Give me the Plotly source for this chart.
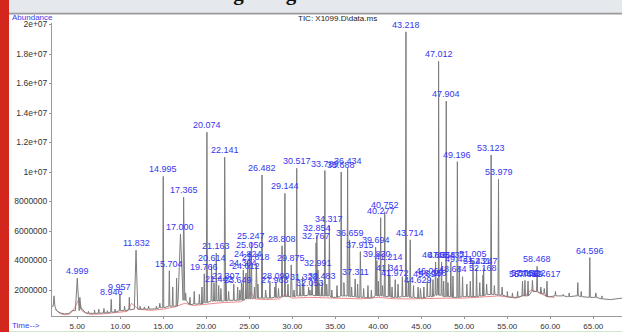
import plotly.graph_objects as go
import numpy as np

# ---------------- data ----------------
# labelled peaks: retention time (min) and apex abundance (millions)
peak_times = [4.999, 8.946, 9.957, 11.832, 14.995, 15.704, 17.000, 17.365,
              19.766, 20.074, 20.614, 21.163, 21.442, 22.141, 22.307, 23.649,
              24.304, 24.612, 24.824, 25.050, 25.247, 25.818, 26.482, 27.963,
              28.099, 28.808, 29.144, 29.875, 30.517, 31.328, 32.053, 32.767,
              32.854, 32.991, 33.483, 33.789, 34.317, 35.688, 36.434, 36.659,
              37.311, 37.915, 39.694, 39.830, 40.277, 40.752, 41.214, 41.341,
              41.972, 43.218, 43.714, 44.629, 45.694, 46.064, 46.358, 46.663,
              47.012, 47.358, 47.904, 48.437, 48.684, 49.196, 49.431, 51.005,
              51.431, 52.168, 52.247, 53.123, 53.979, 56.769, 57.052, 57.412,
              57.922, 58.468, 59.617, 64.596]
peak_heights_m = [2.80, 1.37, 1.70, 4.70, 9.70, 3.30, 5.80, 8.30,
                  3.10, 12.70, 3.70, 4.50, 2.30, 11.00, 2.50, 2.20,
                  3.35, 3.15, 4.00, 4.60, 5.20, 3.75, 9.80, 2.20,
                  2.50, 5.00, 8.55, 3.70, 10.25, 2.40, 2.00, 5.20,
                  5.70, 3.35, 2.50, 10.10, 6.34, 10.00, 10.25, 5.40,
                  2.75, 4.60, 4.90, 4.00, 6.90, 7.30, 3.75, 3.00,
                  2.70, 19.50, 5.40, 2.20, 2.60, 2.80, 2.70, 3.90,
                  17.50, 3.90, 14.80, 3.90, 2.95, 10.70, 3.60, 4.00,
                  3.50, 3.00, 3.50, 11.15, 9.50, 2.60, 2.65, 2.60,
                  2.65, 3.60, 2.60, 4.20]

# unlabelled smaller peaks
minor_times = [2.3, 5.3, 6.3, 7.0, 7.5, 8.1, 8.5, 9.4, 10.5, 11.05, 12.3, 12.8,
               13.3, 14.2, 14.6, 16.1, 16.55, 17.6, 18.1, 18.6, 19.2, 19.5,
               20.9, 21.7, 22.6, 23.2, 23.9, 24.1, 25.6, 26.0, 26.9, 27.4,
               28.4, 29.5, 30.2, 30.9, 31.2, 31.9, 32.3, 33.1, 33.4, 34.0,
               34.6, 35.2, 36.0, 36.9, 37.6, 38.3, 38.8, 39.2, 40.0, 40.5,
               41.6, 42.3, 42.8, 43.5, 44.1, 44.9, 45.3, 46.9, 47.6, 48.1,
               49.8, 50.3, 50.7, 51.8, 52.6, 53.5, 54.4, 55.0, 55.6, 56.2,
               58.9, 59.3, 60.6, 61.5, 62.2, 63.2, 63.6, 65.3, 66.0]
minor_heights_m = [1.6, 1.5, 0.55, 0.65, 0.7, 0.75, 0.6, 0.7, 0.9, 1.5, 0.9, 0.85,
                   0.9, 0.9, 1.1, 2.2, 2.8, 1.8, 1.5, 1.9, 1.7, 2.2,
                   2.5, 2.1, 1.9, 2.4, 2.0, 2.5, 2.2, 2.4, 2.0, 2.6,
                   2.1, 2.4, 2.0, 2.3, 2.9, 2.2, 2.6, 2.5, 2.2, 2.4,
                   2.0, 2.3, 2.5, 2.2, 2.4, 2.1, 2.3, 2.0, 2.6, 2.3,
                   2.2, 2.4, 2.9, 2.6, 2.3, 2.1, 2.2, 2.8, 2.6, 2.5,
                   2.9, 2.4, 2.6, 2.5, 2.4, 2.3, 2.2, 1.9, 1.8, 1.9,
                   2.2, 2.1, 1.9, 1.7, 1.8, 2.5, 1.9, 1.8, 1.6]

# TIC baseline between peaks (min, millions)
base_times = [2.06, 2.6, 3.0, 3.5, 4.0, 4.4, 5.6, 6.0, 7.0, 8.0, 9.0, 10.0,
              11.0, 12.3, 13.0, 14.0, 15.0, 16.0, 17.5, 18.0, 19.0, 20.0,
              21.0, 22.0, 23.0, 24.0, 25.0, 26.0, 27.0, 28.0, 29.0, 30.0,
              31.0, 32.0, 33.0, 34.0, 35.0, 36.0, 37.0, 38.0, 39.0, 40.0,
              41.0, 42.0, 43.0, 44.0, 45.0, 46.0, 47.0, 48.0, 49.0, 50.0,
              51.0, 52.0, 53.0, 54.0, 55.0, 56.0, 57.0, 58.0, 59.0, 60.0,
              61.0, 62.0, 63.0, 64.0, 65.0, 66.0, 67.0, 68.34]
base_values_m = [0.90, 0.60, 0.45, 0.38, 0.40, 0.60, 0.70, 0.42, 0.42, 0.45, 0.50, 0.60,
                 0.65, 0.70, 0.70, 0.72, 0.80, 0.90, 1.30, 1.00, 1.05, 1.15,
                 1.25, 1.25, 1.30, 1.30, 1.40, 1.45, 1.45, 1.50, 1.55, 1.55,
                 1.60, 1.65, 1.60, 1.60, 1.50, 1.60, 1.55, 1.50, 1.45, 1.60,
                 1.55, 1.50, 1.55, 1.50, 1.45, 1.55, 1.65, 1.55, 1.50, 1.55,
                 1.55, 1.60, 1.70, 1.65, 1.55, 1.50, 1.60, 1.90, 1.75, 1.55,
                 1.60, 1.55, 1.60, 1.55, 1.50, 1.40, 1.35, 1.45]

# red integration baseline (min, millions)
red_times = [2.4, 3.0, 3.6, 4.2, 4.7, 5.2, 5.6, 6.5, 8.0, 9.5, 10.8, 11.3,
             12.1, 13.5, 15.0, 16.3, 17.5, 18.5, 20.0, 22.0, 24.0, 24.8,
             25.2, 25.6, 27.0, 28.5, 29.2, 30.0, 32.0, 34.0, 36.0, 38.0,
             40.0, 42.0, 44.0, 46.0, 48.0, 50.0, 52.0, 54.0, 56.0, 57.2,
             57.8, 58.6, 59.6, 60.5]
red_values_m = [0.70, 0.40, 0.32, 0.40, 0.80, 1.40, 0.55, 0.35, 0.38, 0.45, 0.55, 1.10,
                0.70, 0.62, 0.70, 0.85, 1.10, 0.95, 1.05, 1.15, 1.20, 1.50,
                1.85, 1.40, 1.35, 1.40, 1.70, 1.45, 1.50, 1.45, 1.45, 1.40,
                1.50, 1.40, 1.40, 1.45, 1.45, 1.45, 1.50, 1.60, 1.45, 1.70,
                2.00, 1.85, 1.55, 1.50]

y_tick_values = [2e6, 4e6, 6e6, 8e6, 1e7, 1.2e7, 1.4e7, 1.6e7, 1.8e7, 2e7]
y_tick_labels = ["2000000", "4000000", "6000000", "8000000", "1e+07",
                 "1.2e+07", "1.4e+07", "1.6e+07", "1.8e+07", "2e+07"]
x_tick_values = [5, 10, 15, 20, 25, 30, 35, 40, 45, 50, 55, 60, 65]
x_tick_labels = ["%.2f" % v for v in x_tick_values]

# ---------------- peak shape (style) ----------------
default_halfwidth = 0.06
broad_halfwidth = {4.999: 0.22, 11.832: 0.2, 17.000: 0.28, 2.3: 0.1, 5.3: 0.1}

MIL = 1e6
bt = np.array(base_times)
bv = np.array(base_values_m) * MIL


def nearest_base(t):
    return bv[int(np.argmin(np.abs(bt - t)))]


pts = list(zip(bt.tolist(), bv.tolist()))
for t, h in list(zip(peak_times, peak_heights_m)) + list(zip(minor_times, minor_heights_m)):
    hw = broad_halfwidth.get(t, default_halfwidth)
    b = nearest_base(t)
    pts += [(t - hw, b), (t, h * MIL), (t + hw, b)]
pts.sort(key=lambda p: p[0])
tic_x = [p[0] for p in pts]
tic_y = [p[1] for p in pts]

# ---------------- figure ----------------
W, H = 622, 332
L, R, T, B = 52, 0, 23, 16
PW, PH = W - L - R, H - T - B


def xp(px):
    return (px - L) / PW


def yp(py):
    return (H - B - py) / PH


fig = go.Figure()
fig.add_trace(go.Scatter(x=red_times, y=[v * MIL for v in red_values_m],
                         mode="lines", line=dict(color="#f08a8a", width=1),
                         hoverinfo="skip", showlegend=False))
fig.add_trace(go.Scatter(x=tic_x, y=tic_y, mode="lines",
                         line=dict(color="#7c7c7c", width=1),
                         showlegend=False))

label_color = "#3636f0"
annotations = []
for t, h in zip(peak_times, peak_heights_m):
    annotations.append(dict(x=t, y=h * MIL, xref="x", yref="y",
                            text="%.3f" % t, showarrow=False,
                            xanchor="center", yanchor="bottom", yshift=0,
                            font=dict(family="Liberation Sans, Arial", size=9,
                                      color=label_color)))

annotations += [
    dict(x=xp(10), y=yp(17.5), xref="paper", yref="paper", text="Abundance",
         showarrow=False, xanchor="left", yanchor="middle",
         font=dict(family="Liberation Sans, Arial", size=8, color="#3a3af0")),
    dict(x=xp(10), y=yp(325), xref="paper", yref="paper", text="Time-->",
         showarrow=False, xanchor="left", yanchor="middle",
         font=dict(family="Liberation Sans, Arial", size=8, color="#3a3af0")),
    dict(x=xp(296), y=yp(18.5), xref="paper", yref="paper",
         text="TIC: X1099.D\\data.ms",
         showarrow=False, xanchor="left", yanchor="middle",
         font=dict(family="Liberation Sans, Arial", size=8, color="#222222")),
    dict(x=xp(20), y=yp(7.5), xref="paper", yref="paper",
         text="<b>micromamone oil of H. gattinga</b>",
         showarrow=False, xanchor="left", yanchor="bottom",
         font=dict(family="Liberation Serif, Times New Roman", size=21,
                   color="#111111")),
]

shapes = [
    dict(type="rect", xref="paper", yref="paper", x0=xp(9), x1=xp(W), y0=yp(13), y1=yp(-30),
         fillcolor="#e5e9ee", line=dict(width=0), layer="above"),
    dict(type="rect", xref="paper", yref="paper", x0=xp(9), x1=xp(W), y0=yp(14.5), y1=yp(12.8),
         fillcolor="#9a9a9a", line=dict(width=0), layer="above"),
    dict(type="rect", xref="paper", yref="paper", x0=xp(0), x1=xp(9), y0=yp(H), y1=yp(0),
         fillcolor="#d3261c", line=dict(width=0), layer="above"),
    dict(type="rect", xref="paper", yref="paper", x0=xp(9), x1=xp(W), y0=yp(H), y1=yp(331),
         fillcolor="#cfe8c8", line=dict(width=0), layer="above"),
]

fig.update_layout(
    width=W, height=H,
    margin=dict(l=L, r=R, t=T, b=B, pad=0),
    paper_bgcolor="white", plot_bgcolor="white",
    annotations=annotations, shapes=shapes,
    showlegend=False,
    xaxis=dict(range=[2.06, 2.06 + PW / 8.6], tickvals=x_tick_values, ticktext=x_tick_labels,
               showgrid=False, zeroline=False, showline=True, linecolor="#9a9a9a",
               linewidth=1, ticks="outside", ticklen=2, tickcolor="#9a9a9a",
               tickfont=dict(family="Liberation Sans, Arial", size=8, color="#333333")),
    yaxis=dict(range=[0.237e6, 0.237e6 + PH / 14.75 * 1e6], tickvals=y_tick_values,
               ticktext=y_tick_labels,
               showgrid=False, zeroline=False, showline=True, linecolor="#9a9a9a",
               linewidth=1, ticks="outside", ticklen=2, tickcolor="#9a9a9a",
               tickfont=dict(family="Liberation Sans, Arial", size=8.5, color="#333333")),
)

fig.write_html(
    "out.html",
    config={"displayModeBar": False},
    post_script="document.body.style.margin='0';document.body.style.padding='0';"
                "document.body.style.overflow='hidden';",
)
